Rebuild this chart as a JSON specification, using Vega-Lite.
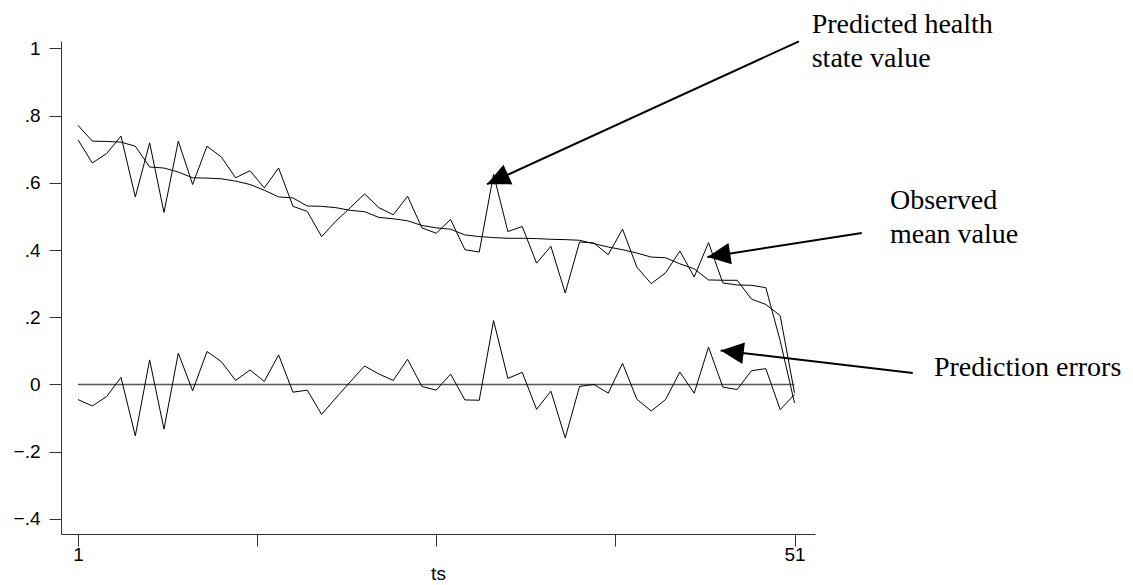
{
  "$schema": "https://vega.github.io/schema/vega-lite/v6.json",
  "width": 754,
  "height": 493,
  "autosize": {"type": "none"},
  "padding": {"left": 61, "top": 41, "right": 318, "bottom": 51},
  "background": "white",
  "config": {
    "view": {"stroke": null},
    "font": "Liberation Sans",
    "axis": {"grid": false}
  },
  "datasets": {
    "series": [
      {"x": 1, "predicted": 0.728, "observed": 0.771, "error": -0.045},
      {"x": 2, "predicted": 0.659, "observed": 0.724, "error": -0.064},
      {"x": 3, "predicted": 0.687, "observed": 0.723, "error": -0.036},
      {"x": 4, "predicted": 0.739, "observed": 0.721, "error": 0.021},
      {"x": 5, "predicted": 0.558, "observed": 0.709, "error": -0.153},
      {"x": 6, "predicted": 0.719, "observed": 0.647, "error": 0.073},
      {"x": 7, "predicted": 0.512, "observed": 0.644, "error": -0.133},
      {"x": 8, "predicted": 0.724, "observed": 0.632, "error": 0.093},
      {"x": 9, "predicted": 0.595, "observed": 0.615, "error": -0.019},
      {"x": 10, "predicted": 0.709, "observed": 0.614, "error": 0.098},
      {"x": 11, "predicted": 0.677, "observed": 0.612, "error": 0.068},
      {"x": 12, "predicted": 0.615, "observed": 0.605, "error": 0.012},
      {"x": 13, "predicted": 0.636, "observed": 0.595, "error": 0.043},
      {"x": 14, "predicted": 0.585, "observed": 0.578, "error": 0.009},
      {"x": 15, "predicted": 0.644, "observed": 0.558, "error": 0.088},
      {"x": 16, "predicted": 0.530, "observed": 0.555, "error": -0.023},
      {"x": 17, "predicted": 0.515, "observed": 0.531, "error": -0.017},
      {"x": 18, "predicted": 0.440, "observed": 0.530, "error": -0.089},
      {"x": 19, "predicted": 0.486, "observed": 0.526, "error": -0.040},
      {"x": 20, "predicted": 0.526, "observed": 0.518, "error": 0.008},
      {"x": 21, "predicted": 0.567, "observed": 0.514, "error": 0.055},
      {"x": 22, "predicted": 0.526, "observed": 0.497, "error": 0.031},
      {"x": 23, "predicted": 0.505, "observed": 0.493, "error": 0.012},
      {"x": 24, "predicted": 0.560, "observed": 0.487, "error": 0.075},
      {"x": 25, "predicted": 0.466, "observed": 0.473, "error": -0.006},
      {"x": 26, "predicted": 0.450, "observed": 0.466, "error": -0.017},
      {"x": 27, "predicted": 0.491, "observed": 0.462, "error": 0.031},
      {"x": 28, "predicted": 0.401, "observed": 0.445, "error": -0.046},
      {"x": 29, "predicted": 0.394, "observed": 0.440, "error": -0.047},
      {"x": 30, "predicted": 0.625, "observed": 0.437, "error": 0.190},
      {"x": 31, "predicted": 0.455, "observed": 0.435, "error": 0.018},
      {"x": 32, "predicted": 0.470, "observed": 0.435, "error": 0.036},
      {"x": 33, "predicted": 0.361, "observed": 0.434, "error": -0.074},
      {"x": 34, "predicted": 0.411, "observed": 0.432, "error": -0.020},
      {"x": 35, "predicted": 0.272, "observed": 0.431, "error": -0.159},
      {"x": 36, "predicted": 0.424, "observed": 0.429, "error": -0.006},
      {"x": 37, "predicted": 0.421, "observed": 0.419, "error": 0.000},
      {"x": 38, "predicted": 0.386, "observed": 0.409, "error": -0.026},
      {"x": 39, "predicted": 0.462, "observed": 0.401, "error": 0.063},
      {"x": 40, "predicted": 0.349, "observed": 0.391, "error": -0.044},
      {"x": 41, "predicted": 0.300, "observed": 0.379, "error": -0.079},
      {"x": 42, "predicted": 0.332, "observed": 0.377, "error": -0.045},
      {"x": 43, "predicted": 0.397, "observed": 0.359, "error": 0.037},
      {"x": 44, "predicted": 0.320, "observed": 0.344, "error": -0.026},
      {"x": 45, "predicted": 0.422, "observed": 0.311, "error": 0.111},
      {"x": 46, "predicted": 0.302, "observed": 0.310, "error": -0.008},
      {"x": 47, "predicted": 0.296, "observed": 0.310, "error": -0.015},
      {"x": 48, "predicted": 0.295, "observed": 0.254, "error": 0.041},
      {"x": 49, "predicted": 0.288, "observed": 0.238, "error": 0.047},
      {"x": 50, "predicted": 0.130, "observed": 0.205, "error": -0.075},
      {"x": 51, "predicted": -0.055, "observed": -0.025, "error": -0.030}
    ],
    "zero": [{"x": 1, "x2": 51, "y": 0}],
    "arrows": [
      {"id": 1, "x": 51.31, "y": 1.021, "x2": 29.54, "y2": 0.596},
      {"id": 2, "x": 55.69, "y": 0.451, "x2": 44.92, "y2": 0.379},
      {"id": 3, "x": 59.25, "y": 0.034, "x2": 45.85, "y2": 0.101}
    ],
    "labels": [
      {"x": 52.2, "y": 1.045, "text": "Predicted health"},
      {"x": 52.2, "y": 0.945, "text": "state value"},
      {"x": 57.66, "y": 0.523, "text": "Observed"},
      {"x": 57.66, "y": 0.420, "text": "mean value"},
      {"x": 60.73, "y": 0.026, "text": "Prediction errors"}
    ]
  },
  "encoding": {
    "x": {
      "field": "x",
      "type": "quantitative",
      "scale": {"domain": [-0.186, 52.43], "nice": false, "zero": false},
      "axis": {
        "title": "ts",
        "values": [1, 13.5, 26, 38.5, 51],
        "labelExpr": "datum.value == 1 || datum.value == 51 ? datum.label : ''",
        "tickSize": 12,
        "tickColor": "#333",
        "domainColor": "#333",
        "labelColor": "#000",
        "labelFont": "Liberation Sans",
        "labelFontSize": 19,
        "labelPadding": -1,
        "labelFlush": false,
        "labelOverlap": false,
        "titleFont": "Liberation Sans",
        "titleFontSize": 19,
        "titleFontWeight": "normal",
        "titleColor": "#000",
        "titlePadding": 0
      }
    },
    "y": {
      "field": "y",
      "type": "quantitative",
      "scale": {"domain": [-0.445, 1.022], "nice": false, "zero": false},
      "axis": {
        "title": null,
        "values": [-0.4, -0.2, 0, 0.2, 0.4, 0.6, 0.8, 1],
        "labelExpr": "datum.value == 0 ? '0' : datum.value == 1 ? '1' : replace(format(datum.value, '.1f'), '0.', '.')",
        "tickSize": 12,
        "tickColor": "#333",
        "domainColor": "#333",
        "labelColor": "#000",
        "labelFont": "Liberation Sans",
        "labelFontSize": 19,
        "labelPadding": 9,
        "labelFlush": false,
        "labelOverlap": false
      }
    }
  },
  "layer": [
    {
      "data": {"name": "zero"},
      "mark": {"type": "rule", "color": "#555", "strokeWidth": 1.5},
      "encoding": {"x2": {"field": "x2"}}
    },
    {
      "data": {"name": "series"},
      "transform": [{"fold": ["predicted", "observed", "error"], "as": ["series", "y"]}],
      "mark": {"type": "line", "color": "#000", "strokeWidth": 1},
      "encoding": {"detail": {"field": "series", "type": "nominal"}}
    },
    {
      "data": {"name": "arrows"},
      "mark": {"type": "rule", "color": "#000", "strokeWidth": 2},
      "encoding": {"x2": {"field": "x2"}, "y2": {"field": "y2"}}
    },
    {
      "data": {"name": "arrows"},
      "transform": [{"filter": "datum.id == 1"}],
      "mark": {"type": "point", "shape": "M0,0L-0.75,1.6L0.75,1.6Z", "size": 830, "filled": true, "color": "#000", "opacity": 1, "angle": 245.4},
      "encoding": {"x": {"field": "x2", "type": "quantitative"}, "y": {"field": "y2", "type": "quantitative"}}
    },
    {
      "data": {"name": "arrows"},
      "transform": [{"filter": "datum.id == 2"}],
      "mark": {"type": "point", "shape": "M0,0L-0.75,1.6L0.75,1.6Z", "size": 830, "filled": true, "color": "#000", "opacity": 1, "angle": 261.2},
      "encoding": {"x": {"field": "x2", "type": "quantitative"}, "y": {"field": "y2", "type": "quantitative"}}
    },
    {
      "data": {"name": "arrows"},
      "transform": [{"filter": "datum.id == 3"}],
      "mark": {"type": "point", "shape": "M0,0L-0.75,1.6L0.75,1.6Z", "size": 830, "filled": true, "color": "#000", "opacity": 1, "angle": 276.7},
      "encoding": {"x": {"field": "x2", "type": "quantitative"}, "y": {"field": "y2", "type": "quantitative"}}
    },
    {
      "data": {"name": "labels"},
      "mark": {"type": "text", "align": "left", "baseline": "alphabetic", "font": "Liberation Serif", "fontSize": 28, "color": "#000"},
      "encoding": {"text": {"field": "text"}}
    }
  ]
}
